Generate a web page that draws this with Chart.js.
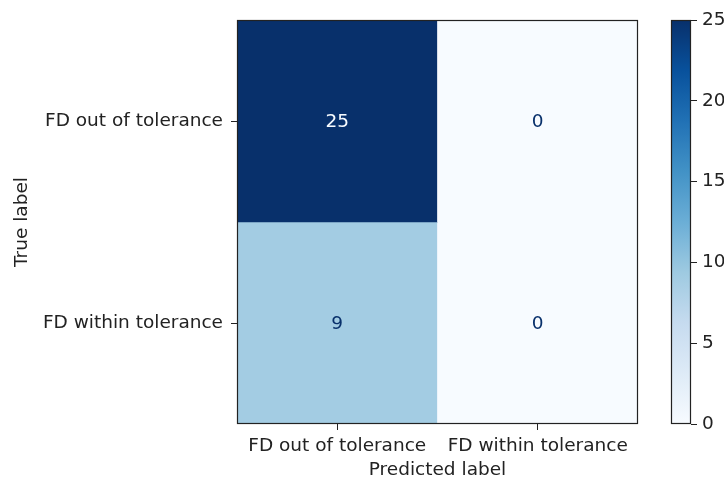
<!DOCTYPE html>
<html>
<head>
<meta charset="utf-8">
<script src="https://cdn.jsdelivr.net/npm/chart.js@4.4.0/dist/chart.umd.min.js"></script>
<style>
  body { margin: 0; background: #fff; }
  #wrap { position: relative; width: 724px; height: 479px; overflow: hidden; }
  #matrix { position: absolute; left: 0; top: 0; }
  #colorbar { position: absolute; left: 650px; top: 0; }
</style>
</head>
<body>
<div id="wrap">
  <canvas id="matrix" width="650" height="479"></canvas>
  <canvas id="colorbar" width="74" height="479"></canvas>
</div>
<script>
// confusion matrix values
const trueLabels = ['FD out of tolerance', 'FD within tolerance']
const predictedLabels = ['FD out of tolerance', 'FD within tolerance']
const rowOutOfTolerance = [25, 0]
const rowWithinTolerance = [9, 0]
const colorbarTicks = [0, 5, 10, 15, 20, 25]
const vmin = 0
const vmax = 25

// matplotlib "Blues"
const bluesStops = ['#f7fbff', '#deebf7', '#c6dbef', '#9ecae1', '#6baed6', '#4292c6', '#2171b5', '#08519c', '#08306b']

const hexRgb = (h) => [1, 3, 5].map(i => parseInt(h.slice(i, i + 2), 16))
const blues = (t) => {
  t = Math.min(1, Math.max(0, t))
  const pos = t * (bluesStops.length - 1)
  const i = Math.min(Math.floor(pos), bluesStops.length - 2)
  const f = pos - i
  const a = hexRgb(bluesStops[i]), b = hexRgb(bluesStops[i + 1])
  const c = a.map((v, k) => Math.round(v + (b[k] - v) * f))
  return `rgb(${c[0]},${c[1]},${c[2]})`
}
const norm = (v) => (v - vmin) / (vmax - vmin)

Chart.defaults.font.family = 'DejaVu Sans'
Chart.defaults.font.size = 18.5
Chart.defaults.color = '#222'
Chart.defaults.animation = false

const frame = {
  id: 'frame',
  afterDatasetsDraw(chart) {
    const { ctx, chartArea: a } = chart
    ctx.save()
    ctx.strokeStyle = '#222'
    ctx.lineWidth = 1.2
    ctx.strokeRect(a.left + 0.5, a.top + 0.5, a.right - a.left - 1, a.bottom - a.top - 1)
    ctx.restore()
  }
}

const cellText = {
  id: 'cellText',
  afterDatasetsDraw(chart) {
    const ctx = chart.ctx
    ctx.save()
    ctx.font = '18.5px "DejaVu Sans"'
    ctx.textAlign = 'center'
    ctx.textBaseline = 'middle'
    chart.data.datasets.forEach((ds, i) => {
      chart.getDatasetMeta(i).data.forEach((bar, j) => {
        const v = ds.counts[j]
        const p = bar.getCenterPoint()
        ctx.fillStyle = v > (vmax + vmin) / 2 ? blues(0) : blues(1)
        ctx.fillText(String(v), p.x, p.y + 1)
      })
    })
    ctx.restore()
  }
}

const rows = [rowOutOfTolerance, rowWithinTolerance]

new Chart(document.getElementById('matrix'), {
  type: 'bar',
  data: {
    labels: predictedLabels,
    datasets: rows.map((row, r) => ({
      data: row.map(() => [r - 0.5, r + 0.5]),
      counts: row,
      backgroundColor: row.map(v => blues(norm(v))),
      borderWidth: 0,
      grouped: false,
      barPercentage: 1,
      categoryPercentage: 1
    }))
  },
  options: {
    responsive: false,
    layout: { padding: { left: 0, right: 12, top: 20, bottom: 0 } },
    plugins: { legend: { display: false }, tooltip: { enabled: false } },
    scales: {
      x: {
        grid: { offset: false, drawOnChartArea: false, tickLength: 6, tickColor: '#222', lineWidth: 1 },
        border: { display: false },
        ticks: { padding: 5, maxRotation: 0, autoSkip: false },
        title: { display: true, text: 'Predicted label', font: { lineHeight: 0.9 }, padding: { top: 0, bottom: 0 } },
        afterFit: (s) => { s.height = 55 }
      },
      y: {
        type: 'linear',
        reverse: true,
        min: -0.5,
        max: 1.5,
        afterBuildTicks: (s) => { s.ticks = trueLabels.map((_, i) => ({ value: i })) },
        grid: { drawOnChartArea: false, tickLength: 6, tickColor: '#222', lineWidth: 1 },
        border: { display: false },
        ticks: { padding: 8, callback: (v) => trueLabels[v] },
        title: { display: true, text: 'True label', padding: { top: 11, bottom: 0 } },
        afterFit: (s) => { s.width = 237 }
      }
    }
  },
  plugins: [cellText, frame]
})

new Chart(document.getElementById('colorbar'), {
  type: 'bar',
  data: {
    labels: [''],
    datasets: [{
      data: [[vmin, vmax]],
      borderWidth: 0,
      barPercentage: 1,
      categoryPercentage: 1,
      backgroundColor: (c) => {
        const area = c.chart.chartArea
        if (!area) return blues(0.5)
        const g = c.chart.ctx.createLinearGradient(0, area.bottom, 0, area.top)
        bluesStops.forEach((col, i) => g.addColorStop(i / (bluesStops.length - 1), col))
        return g
      }
    }]
  },
  options: {
    responsive: false,
    layout: { padding: { left: 21, right: 0, top: 20, bottom: 55 } },
    plugins: { legend: { display: false }, tooltip: { enabled: false } },
    scales: {
      x: { display: false },
      y: {
        position: 'right',
        min: vmin,
        max: vmax,
        afterBuildTicks: (s) => { s.ticks = colorbarTicks.map(v => ({ value: v })) },
        grid: { drawOnChartArea: false, tickLength: 6, tickColor: '#222', lineWidth: 1 },
        border: { display: false },
        ticks: { padding: 5 },
        afterFit: (s) => { s.width = 33 }
      }
    }
  },
  plugins: [frame]
})
</script>
</body>
</html>
